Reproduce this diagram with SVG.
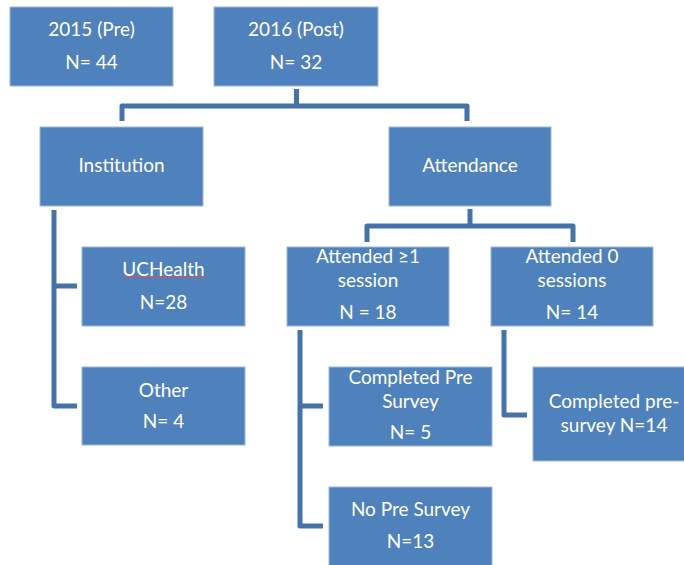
<svg xmlns="http://www.w3.org/2000/svg" width="684" height="565" viewBox="0 0 684 565">
<style>
.box{fill:#4F81BD;stroke:#9DB7DA;stroke-width:1}
.t{font-family:Lato,"Open Sans",sans-serif;font-size:19px;fill:#FFFFFF;text-anchor:middle}
.c{fill:none;stroke:#4572A8;stroke-width:5;stroke-linejoin:round}
</style>
<rect width="684" height="565" fill="#FFFFFF"/>
<g id="connectors">
<path class="c" d="M296.5,89 V106 M122,121 V106 H467 V121"/>
<path class="c" d="M54,210 V406 H77 M54,286 H77"/>
<path class="c" d="M470,209 V226 M367,242 V226 H573 V242"/>
<path class="c" d="M300,330 V526 H323 M300,406 H323"/>
<path class="c" d="M504,330 V415 H527"/>
</g>
<g id="n2015"><rect class="box" x="10" y="7" width="163" height="79"/><text class="t" x="91.5" y="36">2015 (Pre)</text><text class="t" x="91.5" y="69">N= 44</text></g>
<g id="n2016"><rect class="box" x="214" y="7" width="164" height="79"/><text class="t" x="296" y="36">2016 (Post)</text><text class="t" x="296" y="69">N= 32</text></g>
<g id="institution"><rect class="box" x="40" y="127" width="163" height="79"/><text class="t" x="121.5" y="172">Institution</text></g>
<g id="attendance"><rect class="box" x="389" y="127" width="162" height="79"/><text class="t" x="470" y="172">Attendance</text></g>
<g id="uchealth"><rect class="box" x="82" y="247" width="163" height="79"/><text class="t" x="163.5" y="276">UCHealth</text><path d="M123,277.5 l2,-1 2,1 2,-1 2,1 2,-1 2,1 2,-1 2,1 2,-1 2,1 2,-1 2,1 2,-1 2,1 2,-1 2,1 2,-1 2,1 2,-1 2,1 2,-1 2,1 2,-1 2,1 2,-1 2,1 2,-1 2,1 2,-1 2,1 2,-1 2,1 2,-1 2,1 2,-1 2,1 2,-1 2,1 2,-1 2,1 2,-1" fill="none" stroke="#D9534F" stroke-width="1"/><text class="t" x="163.5" y="309">N=28</text></g>
<g id="other"><rect class="box" x="82" y="367" width="163" height="78"/><text class="t" x="163.5" y="397">Other</text><text class="t" x="163.5" y="428">N= 4</text></g>
<g id="attended1"><rect class="box" x="287" y="247" width="162" height="79"/><text class="t" x="368" y="263">Attended ≥1</text><text class="t" x="368" y="287">session</text><text class="t" x="368" y="319">N = 18</text></g>
<g id="attended0"><rect class="box" x="491" y="247" width="162" height="79"/><text class="t" x="572" y="263">Attended 0</text><text class="t" x="572" y="287">sessions</text><text class="t" x="572" y="319">N= 14</text></g>
<g id="completedPre"><rect class="box" x="329" y="367" width="163" height="79"/><text class="t" x="410.5" y="384">Completed Pre</text><text class="t" x="410.5" y="408">Survey</text><text class="t" x="410.5" y="439">N= 5</text></g>
<g id="noPre"><rect class="box" x="329" y="487" width="163" height="80"/><text class="t" x="410.5" y="516">No Pre Survey</text><text class="t" x="410.5" y="548">N=13</text></g>
<g id="completedPre0"><rect class="box" x="533" y="367" width="162" height="94"/><text class="t" x="614" y="408">Completed pre-</text><text class="t" x="614" y="432">survey N=14</text></g>
</svg>
